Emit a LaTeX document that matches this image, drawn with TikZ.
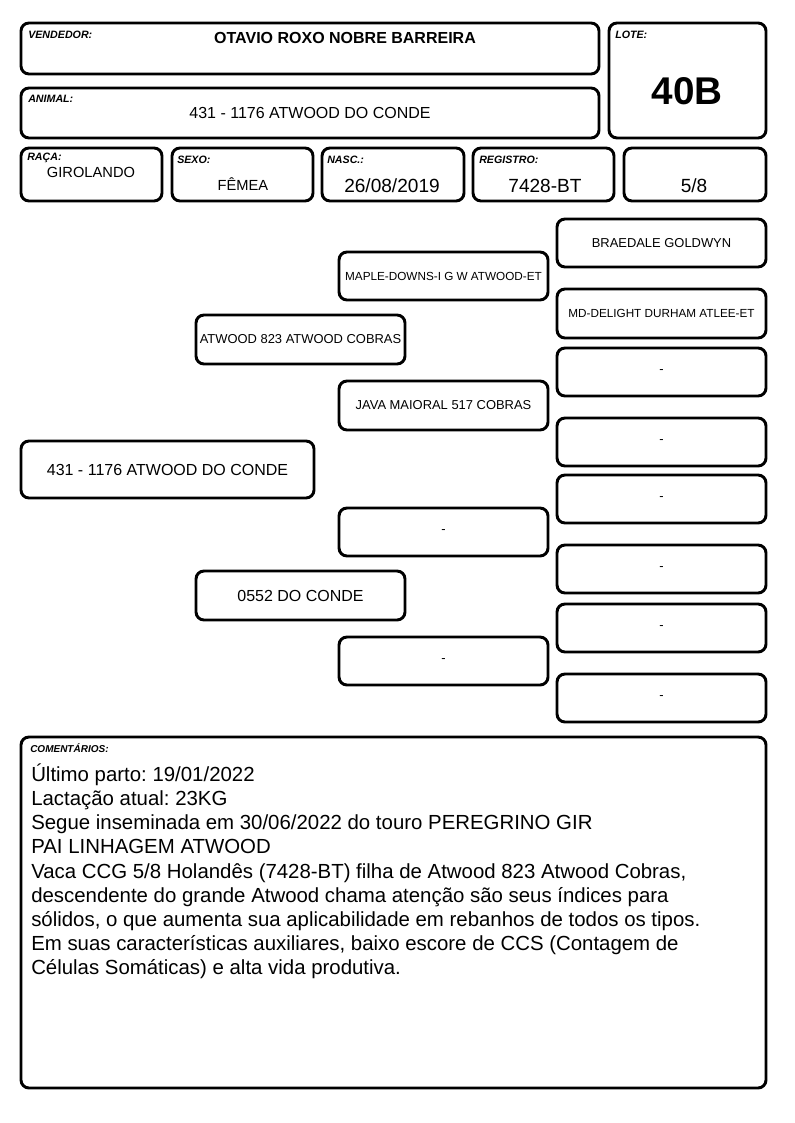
\documentclass[tikz,border=0pt]{standalone}
\usepackage{fontspec}
\setmainfont{Liberation Sans}
\usetikzlibrary{fit}
\frenchspacing
\newcommand\comfnt{\fontsize{15.3}{18.1}\selectfont\lineskiplimit=-100pt\relax\lineskip=0pt\relax}
\begin{document}
\begin{tikzpicture}[x=0.75pt,y=-0.75pt,
  box/.style={draw, line width=2.2pt, rounded corners=6pt, inner sep=0pt},
  lab/.style={font=\fontsize{8}{9}\selectfont\bfseries\itshape, anchor=west, inner sep=0pt},
  big/.style={font=\fontsize{12}{14}\selectfont, inner sep=0pt},
  mid/.style={font=\fontsize{11}{13}\selectfont, inner sep=0pt},
  num/.style={font=\fontsize{14.3}{16}\selectfont, inner sep=0pt},
  ped/.style={font=\fontsize{9.7}{11}\selectfont, inner sep=0pt},
  pedsm/.style={font=\fontsize{8.8}{10}\selectfont, inner sep=0pt}
]
\useasboundingbox[fill=white] (0,0) rectangle (794,1123);

% header boxes
\node[box, fit={(21,23) (599,74)}] (vend) {};
\node[box, fit={(609,23) (766,138)}] (lote) {};
\node[box, fit={(21,88) (599,138)}] (anim) {};
\node[box, fit={(21,148) (162,201)}] (raca) {};
\node[box, fit={(172,148) (313,201)}] (sexo) {};
\node[box, fit={(322,148) (464,201)}] (nasc) {};
\node[box, fit={(473,148) (614,201)}] (reg) {};
\node[box, fit={(624,148) (766,201)}] (frac) {};

\node[lab] (lvend) at (28,35) {VENDEDOR:};
\node[lab] (llote) at (615,35) {LOTE:};
\node[lab] (lanim) at (28,99) {ANIMAL:};
\node[lab] (lraca) at (27,158) {RAÇA:};
\node[lab] (lsexo) at (177,160) {SEXO:};
\node[lab] (lnasc) at (327,160) {NASC.:};
\node[lab] (lreg) at (479,160) {REGISTRO:};

\node[big, font=\fontsize{12}{14}\selectfont\bfseries] (tvend) at (345,38) {OTAVIO ROXO NOBRE BARREIRA};
\node[big] (tanim) at (310,113) {431 - 1176 ATWOOD DO CONDE};
\node[mid] (traca) at (91,172) {GIROLANDO};
\node[mid] (tsexo) at (243,184) {FÊMEA};
\node[num] (tnasc) at (392,186) {26/08/2019};
\node[num] (treg) at (545,186) {7428-BT};
\node[num] (tfrac) at (694,186) {5/8};
\node[font=\fontsize{29}{32}\selectfont\bfseries, inner sep=0pt] (tlote) at (687,91) {40B};

% pedigree boxes
\node[box, fit={(557,219) (766,267)}] (p1) {};
\node[box, fit={(339,252) (548,300)}] (p2) {};
\node[box, fit={(557,289) (766,338)}] (p3) {};
\node[box, fit={(196,315) (405,364)}] (p4) {};
\node[box, fit={(557,348) (766,396)}] (p5) {};
\node[box, fit={(339,381) (548,430)}] (p6) {};
\node[box, fit={(557,418) (766,466)}] (p7) {};
\node[box, fit={(21,441) (314,498)}] (p8) {};
\node[box, fit={(557,475) (766,523)}] (p9) {};
\node[box, fit={(339,508) (548,556)}] (p10) {};
\node[box, fit={(557,545) (766,593)}] (p11) {};
\node[box, fit={(196,571) (405,620)}] (p12) {};
\node[box, fit={(557,604) (766,652)}] (p13) {};
\node[box, fit={(339,637) (548,685)}] (p14) {};
\node[box, fit={(557,674) (766,722)}] (p15) {};

\node[ped] (t1) at (p1.center) {BRAEDALE GOLDWYN};
\node[pedsm] (t2) at (p2.center) {MAPLE-DOWNS-I G W ATWOOD-ET};
\node[pedsm] (t3) at (p3.center) {MD-DELIGHT DURHAM ATLEE-ET};
\node[ped] (t4) at (p4.center) {ATWOOD 823 ATWOOD COBRAS};
\node[ped] (t5) at (p5.center) {-};
\node[ped] (t6) at (p6.center) {JAVA MAIORAL 517 COBRAS};
\node[ped] (t7) at (p7.center) {-};
\node[big] (t8) at (p8.center) {431 - 1176 ATWOOD DO CONDE};
\node[ped] (t9) at (p9.center) {-};
\node[ped] (t10) at (p10.center) {-};
\node[ped] (t11) at (p11.center) {-};
\node[big] (t12) at (p12.center) {0552 DO CONDE};
\node[ped] (t13) at (p13.center) {-};
\node[ped] (t14) at (p14.center) {-};
\node[ped] (t15) at (p15.center) {-};

% comments
\node[box, fit={(21,737) (766,1088)}] (com) {};
\node[lab, font=\fontsize{7.5}{9}\selectfont\bfseries\itshape] (lcom) at (30,748) {COMENTÁRIOS:};
\node[anchor=north west, inner sep=0pt, align=left, font=\comfnt] (tcom) at (31,763.5) {Último parto: 19/01/2022\\
Lactação atual: 23KG\\
Segue inseminada em 30/06/2022 do touro PEREGRINO GIR\\
PAI LINHAGEM ATWOOD\\
Vaca CCG 5/8 Holandês (7428-BT) filha de Atwood 823 Atwood Cobras,\\
descendente do grande Atwood chama atenção são seus índices para\\
sólidos, o que aumenta sua aplicabilidade em rebanhos de todos os tipos.\\
Em suas características auxiliares, baixo escore de CCS (Contagem de\\
Células Somáticas) e alta vida produtiva.};
\end{tikzpicture}
\end{document}
